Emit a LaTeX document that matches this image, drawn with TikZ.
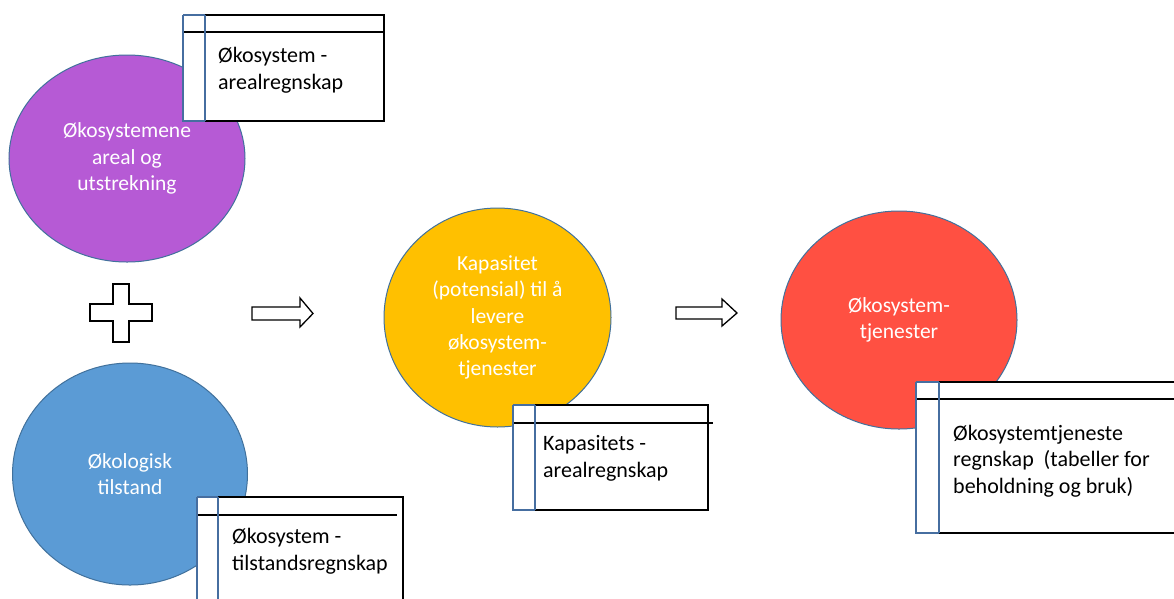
\documentclass[tikz,border=0pt]{standalone}
\usepackage{fontspec}
\setmainfont{Carlito}
\usetikzlibrary{shapes.geometric}
\definecolor{cpurple}{RGB}{182,90,213}
\definecolor{cblue}{RGB}{91,155,213}
\definecolor{cyellow}{RGB}{255,192,0}
\definecolor{cred}{RGB}{255,80,66}
\definecolor{cedge}{RGB}{65,113,156}
\definecolor{tblue}{RGB}{70,110,160}
\tikzset{
  x=1pt,y=-1pt,
  blob/.style={ellipse, draw=cedge, line width=1pt, inner sep=0pt, text=white, align=center,
     font=\fontsize{21.5}{26.3}\selectfont},
  boxtext/.style={anchor=base west, inner sep=0pt, align=left, font=\fontsize{22}{26.5}\selectfont},
  tblk/.style={draw=black, line width=1.1pt},
  tblu/.style={draw=tblue, line width=1.1pt},
  blockshape/.style={draw=black, fill=white, line width=1.3pt, line join=miter},
}
\begin{document}
\begin{tikzpicture}
\useasboundingbox (0,0) rectangle (1174,598);
\clip (0,0) rectangle (1174,598);
\fill[white] (0,0) rectangle (1174,598);

% ellipses
\node[blob, fill=cpurple, minimum width=236, minimum height=207] (purple) at (127,158.5) {Økosystemene\\areal og\\utstrekning};
\node[blob, fill=cblue, minimum width=235, minimum height=222] (blue) at (130,474) {Økologisk\\tilstand};
\node[blob, fill=cyellow, minimum width=227, minimum height=219] (yellow) at (497.5,317.5) {Kapasitet\\(potensial) til å\\levere\\økosystem-\\tjenester};
\node[blob, fill=cred, minimum width=236, minimum height=218] (red) at (899,320) {Økosystem-\\tjenester};

% table boxes
% box 1
\fill[white] (183,15) rectangle (384,121);
\draw[tblk] (205,15) -- (384,15) -- (384,121) -- (205,121);
\draw[tblk] (183,32) -- (384,32);
\draw[tblu] (183,15) -- (205,15);
\draw[tblu] (183,15) -- (183,121) -- (205,121);
\draw[tblu] (205,15) -- (205,121);
\node[boxtext] (t1) at (218,89) {Økosystem -\\arealregnskap};

% box 2
\fill[white] (197,497) rectangle (403,605);
\draw[tblk] (218,497) -- (403,497) -- (403,605);
\draw[tblk] (197,515) -- (397,515);
\draw[tblu] (197,497) -- (218,497);
\draw[tblu] (197,497) -- (197,605);
\draw[tblu] (218,497) -- (218,605);
\node[boxtext] (t2) at (232,570) {Økosystem -\\tilstandsregnskap};

% box 3
\fill[white] (513,405) rectangle (708,510);
\draw[tblk] (535,405) -- (708,405) -- (708,510) -- (535,510);
\draw[tblk] (513,423) -- (713,423);
\draw[tblu] (513,405) -- (535,405);
\draw[tblu] (513,405) -- (513,510) -- (535,510);
\draw[tblu] (535,405) -- (535,510);
\node[boxtext] (t3) at (543,477) {Kapasitets -\\arealregnskap};

% box 4
\fill[white] (916,382) rectangle (1180,533);
\draw[tblk] (939,382) -- (1180,382);
\draw[tblk] (939,533) -- (1180,533);
\draw[tblk] (916,399) -- (1180,399);
\draw[tblu] (916,382) -- (939,382);
\draw[tblu] (916,382) -- (916,533) -- (939,533);
\draw[tblu] (939,382) -- (939,533);
\node[boxtext] (t4) at (953,493) {Økosystemtjeneste\\regnskap\ \ (tabeller for\\beholdning og bruk)};

% plus sign
\draw[blockshape] (113,284) -- (129,284) -- (129,304) -- (152,304) -- (152,321) -- (129,321) -- (129,342)
  -- (113,342) -- (113,321) -- (90,321) -- (90,304) -- (113,304) -- cycle;

% block arrows
\draw[blockshape] (252,307) -- (300,307) -- (300,298) -- (313,313.5) -- (300,327) -- (300,320) -- (252,320) -- cycle;
\draw[blockshape] (676,307) -- (722,307) -- (722,299) -- (737,313) -- (722,326) -- (722,319) -- (676,319) -- cycle;
\end{tikzpicture}
\end{document}
